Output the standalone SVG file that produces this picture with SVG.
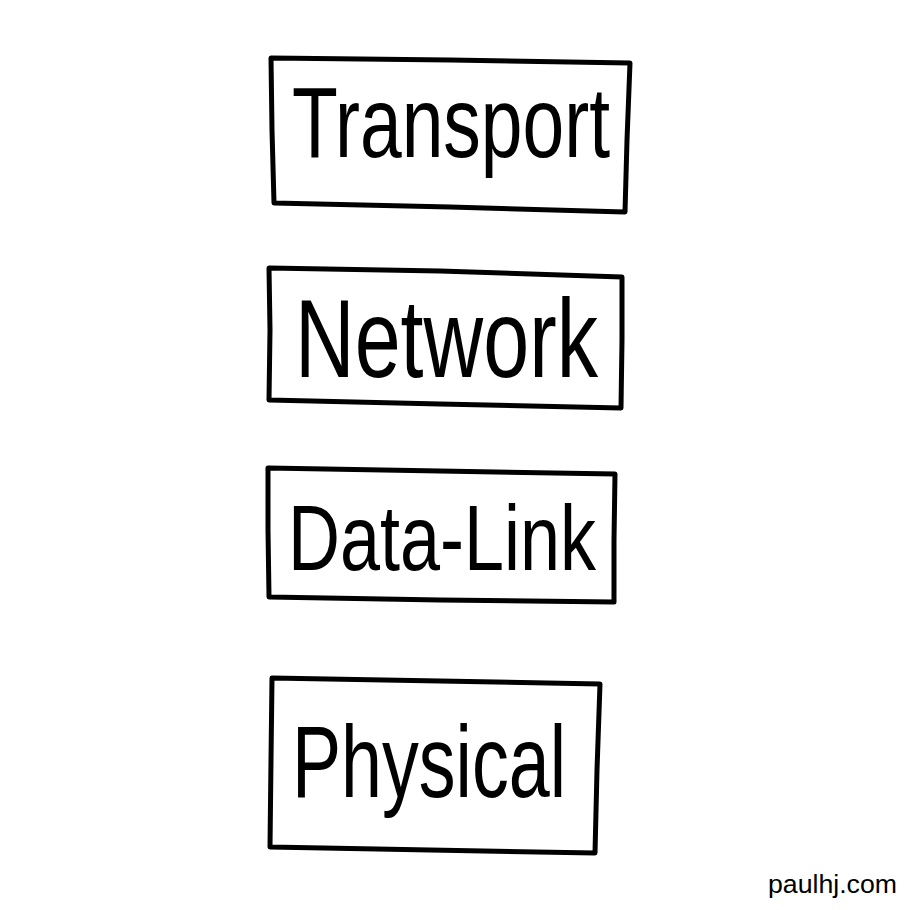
<svg xmlns="http://www.w3.org/2000/svg" width="910" height="910" viewBox="0 0 910 910">
<style>
.box{fill:none;stroke:#000;stroke-width:5;stroke-linejoin:round;stroke-linecap:round}
.lbl{font-family:"Liberation Sans",Arial,sans-serif;fill:#000;text-anchor:start}
.sig{font-family:"Liberation Sans",Arial,sans-serif;fill:#000;font-size:25px}
</style>
<rect width="910" height="910" fill="#fff"/>
<g id="transport">
<path class="box" d="M271,58 L450,60 L630,63 L627,140 L625,212 L450,207 L274,203 L272,130 Z"/>
<text class="lbl" x="292" y="157" font-size="100" textLength="318" lengthAdjust="spacingAndGlyphs">Transport</text>
</g>
<g id="network">
<path class="box" d="M269,268 L440,271 L622,277 L622,340 L621,408 L440,404 L269,400 L270,330 Z"/>
<text class="lbl" x="295" y="377" font-size="112" textLength="303" lengthAdjust="spacingAndGlyphs">Network</text>
</g>
<g id="datalink">
<path class="box" d="M268,468 L440,471 L615,474 L614,540 L614,602 L440,600 L269,597 L268,530 Z"/>
<text class="lbl" x="288" y="570" font-size="92" textLength="308" lengthAdjust="spacingAndGlyphs">Data-Link</text>
</g>
<g id="physical">
<path class="box" d="M272,678 L440,681 L600,684 L597,770 L595,853 L430,850 L270,847 L271,760 Z"/>
<text class="lbl" x="292" y="797" font-size="102" textLength="274" lengthAdjust="spacingAndGlyphs">Physical</text>
</g>
<g id="connectors"></g>
<text class="sig" x="768" y="893" textLength="129" lengthAdjust="spacingAndGlyphs">paulhj.com</text>
</svg>
